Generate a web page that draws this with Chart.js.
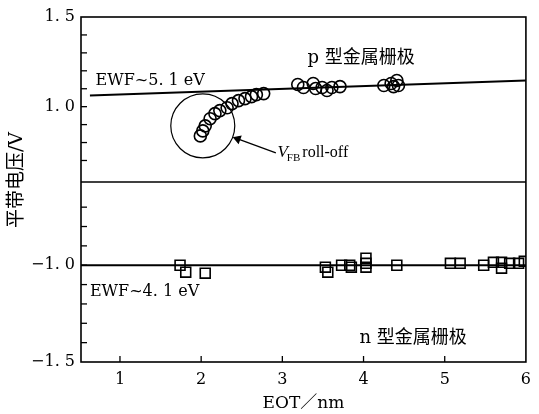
<!DOCTYPE html>
<html>
<head>
<meta charset="utf-8">
<script src="https://cdn.jsdelivr.net/npm/chart.js@4.4.0/dist/chart.umd.min.js"></script>
<style>
  html, body { margin: 0; padding: 0; background: #fff; }
  #wrap { width: 539px; height: 414px; }
</style>
</head>
<body>
<div id="wrap"><canvas id="vfbChart" width="539" height="414"></canvas></div>
<script>
// p 型金属栅极 (circles): EOT (nm) vs flat-band voltage (V)
const pEot = [1.99, 2.02, 2.05, 2.11, 2.17, 2.23, 2.32, 2.38, 2.46, 2.54, 2.62, 2.68, 2.77,
              3.19, 3.26, 3.38, 3.41, 3.49, 3.55, 3.61, 3.71, 4.25, 4.34, 4.37, 4.41, 4.43];
const pVfb = [0.837, 0.865, 0.893, 0.933, 0.961, 0.978, 0.994, 1.017, 1.034, 1.045, 1.056, 1.067, 1.073,
              1.124, 1.107, 1.129, 1.101, 1.107, 1.090, 1.107, 1.112, 1.118, 1.129, 1.112, 1.146, 1.118];

// n 型金属栅极 (squares)
const nEot = [1.74, 1.81, 2.05, 3.53, 3.56, 3.73, 3.83, 3.85, 4.03, 4.03, 4.03, 4.41,
              5.07, 5.19, 5.48, 5.60, 5.70, 5.70, 5.80, 5.91, 5.98];
const nVfb = [-1.000, -1.036, -1.041, -1.010, -1.036, -1.000, -1.000, -1.010, -0.964, -0.990, -1.010, -1.000,
              -0.990, -0.990, -1.000, -0.985, -0.985, -1.015, -0.990, -0.990, -0.980];

// EWF reference lines
const pFitEot = [0.63, 6.0];
const pFitVfb = [1.062, 1.146];
const nFitEot = [0.52, 6.0];
const nFitVfb = [-1.0, -1.0];

// roll-off marker circle and arrow
const rollEot = [2.02];
const rollVfb = [0.893];
const arrowEot = [2.92, 2.45];
const arrowVfb = [0.742, 0.82];

// tick labels
const xTicks = [1, 2, 3, 4, 5, 6];
const yTopTicks = [1.0, 1.5];
const yTopTickText = ['1. 0', '1. 5'];
const yBotTicks = [-1.5, -1.0];
const yBotTickText = ['\u22121. 5', '\u22121. 0'];

const FONT = '"DejaVu Serif", "Noto Sans CJK SC", serif';
const FONT_TNR = '"Liberation Serif", serif';

const pts = (xs, ys) => xs.map((x, i) => ({ x, y: ys[i] }));
const pickLabel = (vals, texts) => v => {
  const i = vals.findIndex(t => Math.abs(t - v) < 1e-6);
  return i >= 0 ? texts[i] : '';
};

const frame = {
  id: 'frame',
  afterDraw(chart) {
    const { ctx, chartArea: a, scales } = chart;
    ctx.save();
    ctx.strokeStyle = '#000';
    ctx.lineWidth = 1.6;
    ctx.strokeRect(a.left, a.top, a.right - a.left, a.bottom - a.top);
    const mid = scales.yTop.bottom;
    ctx.beginPath();
    ctx.moveTo(a.left, mid);
    ctx.lineTo(a.right, mid);
    ctx.stroke();

    // ticks point inward
    ctx.lineWidth = 1.3;
    ['yTop', 'yBot'].forEach(id => {
      const s = scales[id];
      s.ticks.forEach(t => {
        const y = s.getPixelForValue(t.value);
        if (y < s.top + 6 || y > s.bottom - 6) return;
        ctx.beginPath();
        ctx.moveTo(a.left, y);
        ctx.lineTo(a.left + 6, y);
        ctx.stroke();
      });
    });
    scales.x.ticks.forEach(t => {
      const x = scales.x.getPixelForValue(t.value);
      if (x > a.right - 3) return;
      ctx.beginPath();
      ctx.moveTo(x, a.bottom);
      ctx.lineTo(x, a.bottom - 6);
      ctx.stroke();
    });

    // annotations
    const X = v => scales.x.getPixelForValue(v);
    const YT = v => scales.yTop.getPixelForValue(v);
    const YB = v => scales.yBot.getPixelForValue(v);
    ctx.fillStyle = '#000';
    ctx.textBaseline = 'middle';
    ctx.font = '16px ' + FONT;
    ctx.textAlign = 'left';
    ctx.fillText('EWF~5. 1 eV', X(0.70), YT(1.146));
    ctx.fillText('EWF~4. 1 eV', X(0.63), YB(-1.139));
    ctx.textAlign = 'center';
    ctx.font = '18px ' + FONT;
    ctx.fillText('p 型金属栅极', X(3.97), YT(1.27));
    ctx.fillText('n 型金属栅极', X(4.61), YB(-1.376));

    // V_FB roll-off
    ctx.textAlign = 'left';
    let x0 = X(2.94);
    const y0 = YT(0.742);
    ctx.font = 'italic 17px ' + FONT_TNR;
    ctx.fillText('V', x0, y0);
    x0 += ctx.measureText('V').width - 1;
    ctx.font = '11px ' + FONT_TNR;
    ctx.fillText('FB', x0, y0 + 5);
    x0 += ctx.measureText('FB').width + 2;
    ctx.font = '16px ' + FONT_TNR;
    ctx.fillText('roll-off', x0, y0);

    // y title across both stacked axes
    ctx.translate(17, 180);
    ctx.rotate(-Math.PI / 2);
    ctx.textAlign = 'center';
    ctx.font = '19px ' + FONT;
    ctx.fillText('平带电压/V', 0, 0);
    ctx.restore();
  }
};

const yCommon = {
  type: 'linear',
  position: 'left',
  stack: 'v',
  grid: { display: false, drawTicks: false, tickLength: 0 },
  border: { display: false },
  afterFit: s => { s.width = 81; }
};

new Chart(document.getElementById('vfbChart'), {
  type: 'scatter',
  data: {
    datasets: [
      {
        type: 'line', data: pts(pFitEot, pFitVfb), yAxisID: 'yTop',
        borderColor: '#000', borderWidth: 2, pointRadius: 0, fill: false
      },
      {
        data: pts(pEot, pVfb), yAxisID: 'yTop',
        pointStyle: 'circle', pointRadius: 6, borderColor: '#000',
        backgroundColor: 'rgba(255,255,255,0)', borderWidth: 1.6
      },
      {
        data: pts(rollEot, rollVfb), yAxisID: 'yTop',
        pointStyle: 'circle', pointRadius: 32, borderColor: '#000',
        backgroundColor: 'rgba(255,255,255,0)', borderWidth: 1.2
      },
      {
        type: 'line', data: pts(arrowEot, arrowVfb), yAxisID: 'yTop',
        borderColor: '#000', borderWidth: 1.3, fill: false,
        pointStyle: 'triangle', pointRadius: [0, 4], pointRotation: -70,
        pointBackgroundColor: '#000', pointBorderColor: '#000'
      },
      {
        type: 'line', data: pts(nFitEot, nFitVfb), yAxisID: 'yBot',
        borderColor: '#000', borderWidth: 2, pointRadius: 0, fill: false
      },
      {
        data: pts(nEot, nVfb), yAxisID: 'yBot',
        pointStyle: 'rect', pointRadius: 7, borderColor: '#000',
        backgroundColor: 'rgba(255,255,255,0)', borderWidth: 1.6
      }
    ]
  },
  options: {
    responsive: false,
    animation: false,
    layout: { autoPadding: false, padding: { top: 17, right: 4, left: 0, bottom: 0 } },
    plugins: { legend: { display: false }, tooltip: { enabled: false } },
    scales: {
      x: {
        type: 'linear', min: 0.52, max: 6,
        grid: { display: false, drawTicks: false, tickLength: 0 },
        border: { display: false },
        afterBuildTicks: s => { s.ticks = xTicks.map(v => ({ value: v })); },
        ticks: { color: '#000', padding: 8, font: { family: FONT, size: 16 } },
        title: {
          display: true, text: 'EOT／nm', color: '#000',
          padding: { top: 0, bottom: 0 }, font: { family: FONT, size: 17 }
        },
        afterFit: s => { s.height = 52; }
      },
      yBot: Object.assign({}, yCommon, {
        min: -1.5, max: -0.57, stackWeight: 180,
        ticks: {
          stepSize: 0.1, includeBounds: false, autoSkip: false, color: '#000', padding: 6,
          font: { family: FONT, size: 16 }, callback: pickLabel(yBotTicks, yBotTickText)
        }
      }),
      yTop: Object.assign({}, yCommon, {
        min: 0.58, max: 1.5, stackWeight: 165,
        ticks: {
          stepSize: 0.1, includeBounds: false, autoSkip: false, color: '#000', padding: 6,
          font: { family: FONT, size: 16 }, callback: pickLabel(yTopTicks, yTopTickText)
        }
      })
    }
  },
  plugins: [frame]
});
</script>
</body>
</html>
